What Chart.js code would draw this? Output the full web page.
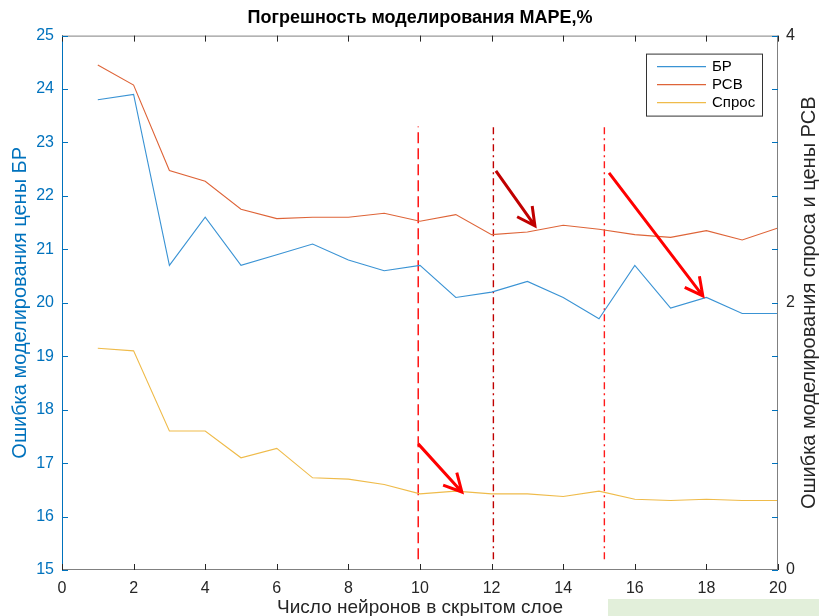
<!DOCTYPE html>
<html>
<head>
<meta charset="utf-8">
<script src="https://cdn.jsdelivr.net/npm/chart.js@4"></script>
<style>
  body { margin: 0; background: #fff; }
  #wrap { position: relative; width: 819px; height: 616px; }
  #note { position: absolute; left: 608px; top: 599px; width: 211px; height: 17px; background: #e2efda; }
</style>
</head>
<body>
<div id="wrap">
  <canvas id="mapeChart"></canvas>
  <div id="note"></div>
</div>
<script>
// Data
const neurons = [1, 2, 3, 4, 5, 6, 7, 8, 9, 10, 11, 12, 13, 14, 15, 16, 17, 18, 19, 20];
const brErr = [23.8, 23.9, 20.7, 21.6, 20.7, 20.9, 21.1, 20.8, 20.6, 20.7, 20.1, 20.2, 20.4, 20.1, 19.7, 20.7, 19.9, 20.1, 19.8, 19.8];
const rsvErr = [3.78, 3.63, 2.99, 2.91, 2.70, 2.63, 2.64, 2.64, 2.67, 2.61, 2.66, 2.51, 2.53, 2.58, 2.55, 2.51, 2.49, 2.54, 2.47, 2.56];
const demandErr = [1.66, 1.64, 1.04, 1.04, 0.84, 0.91, 0.69, 0.68, 0.64, 0.57, 0.59, 0.57, 0.57, 0.55, 0.59, 0.53, 0.52, 0.53, 0.52, 0.52];
const seriesNames = ['БР', 'РСВ', 'Спрос'];

// vertical guide lines (x in neurons, y span in left axis units)
const guideX = [9.95, 12.05, 15.15];
const guideSpan = [15.2, 23.3];
// arrows: [x0, y0, x1, y1] in left axis units
const arrows = [
    [9.95, 17.36, 11.17, 16.46],
    [12.12, 22.47, 13.21, 21.44],
    [15.28, 22.43, 17.9, 20.13]
];

const xTicks = [0, 2, 4, 6, 8, 10, 12, 14, 16, 18, 20];
const rightTitle = 'Ошибка моделирования спроса и цены РСВ';

const BLUE = '#0072BD', AXIS_GRAY = '#808080', TEXT = '#262626';
const lineColors = ['#3a93d4', '#de6438', '#efbb4a'];
const FONT = '"Liberation Sans", Arial, sans-serif';
const guideStyles = [
    { color: '#ff0000', dash: [11, 5] },
    { color: '#c00000', dash: [7, 4, 2, 4] },
    { color: '#ff1a1a', dash: [7, 4, 2, 4] }
];
const arrowColors = ['#ff0000', '#c00000', '#ff0000'];

function pts(ys) {
    return neurons.map((x, i) => ({ x: x, y: ys[i] }));
}

const datasets = [
    { label: seriesNames[0], data: pts(brErr), borderColor: lineColors[0], yAxisID: 'y' },
    { label: seriesNames[1], data: pts(rsvErr), borderColor: lineColors[1], yAxisID: 'y2' },
    { label: seriesNames[2], data: pts(demandErr), borderColor: lineColors[2], yAxisID: 'y2' }
].map(d => Object.assign(d, { borderWidth: 1.1, pointRadius: 0, tension: 0, fill: false }));

guideX.forEach((gx, i) => {
    datasets.push({
        label: 'guide' + i,
        data: [{ x: gx, y: guideSpan[0] }, { x: gx, y: guideSpan[1] }],
        borderColor: guideStyles[i].color,
        borderDash: guideStyles[i].dash,
        borderWidth: 1.4,
        pointRadius: 0,
        yAxisID: 'y'
    });
});

// box, inward ticks, arrows, legend, right title
const matlabAxes = {
    id: 'matlabAxes',
    afterDatasetsDraw(chart) {
        const ctx = chart.ctx;
        const a = chart.chartArea;
        const sx = chart.scales.x, sy = chart.scales.y, sy2 = chart.scales.y2;
        const tl = 6;
        ctx.save();

        // arrows
        arrows.forEach((ar, i) => {
            const x0 = sx.getPixelForValue(ar[0]), y0 = sy.getPixelForValue(ar[1]);
            const x1 = sx.getPixelForValue(ar[2]), y1 = sy.getPixelForValue(ar[3]);
            const ang = Math.atan2(y1 - y0, x1 - x0);
            const hl = 20, hw = 0.48;
            ctx.strokeStyle = arrowColors[i];
            ctx.lineWidth = 3;
            ctx.beginPath();
            ctx.moveTo(x0, y0);
            ctx.lineTo(x1, y1);
            ctx.moveTo(x1 - hl * Math.cos(ang - hw), y1 - hl * Math.sin(ang - hw));
            ctx.lineTo(x1, y1);
            ctx.lineTo(x1 - hl * Math.cos(ang + hw), y1 - hl * Math.sin(ang + hw));
            ctx.stroke();
        });

        // frame
        ctx.lineWidth = 1;
        ctx.strokeStyle = AXIS_GRAY;
        ctx.beginPath();
        ctx.moveTo(a.left, a.top + 0.5); ctx.lineTo(a.right, a.top + 0.5);
        ctx.moveTo(a.left, a.bottom - 0.5); ctx.lineTo(a.right, a.bottom - 0.5);
        ctx.moveTo(a.right - 0.5, a.top); ctx.lineTo(a.right - 0.5, a.bottom);
        ctx.stroke();
        ctx.strokeStyle = BLUE;
        ctx.beginPath();
        ctx.moveTo(a.left + 0.5, a.top); ctx.lineTo(a.left + 0.5, a.bottom);
        ctx.stroke();

        // x ticks, bottom and top
        ctx.strokeStyle = TEXT;
        ctx.beginPath();
        sx.ticks.forEach(t => {
            const px = Math.round(sx.getPixelForValue(t.value)) + 0.5;
            ctx.moveTo(px, a.bottom); ctx.lineTo(px, a.bottom - tl);
            ctx.moveTo(px, a.top); ctx.lineTo(px, a.top + tl);
        });
        ctx.stroke();

        // left and right ticks
        ctx.strokeStyle = BLUE;
        ctx.beginPath();
        sy.ticks.forEach(t => {
            const py = Math.round(sy.getPixelForValue(t.value)) + 0.5;
            ctx.moveTo(a.left, py); ctx.lineTo(a.left + tl, py);
        });
        sy2.ticks.forEach(t => {
            const py = Math.round(sy2.getPixelForValue(t.value)) + 0.5;
            ctx.moveTo(a.right, py); ctx.lineTo(a.right - tl, py);
        });
        ctx.stroke();

        // right axis title, reading bottom to top like the left one
        ctx.save();
        ctx.translate(809, (a.top + a.bottom) / 2);
        ctx.rotate(-Math.PI / 2);
        ctx.font = '20px ' + FONT;
        ctx.fillStyle = TEXT;
        ctx.textAlign = 'center';
        ctx.textBaseline = 'middle';
        ctx.fillText(rightTitle, 0, 0);
        ctx.restore();

        // legend box
        const bw = 116, bh = 62;
        const bx = a.right - 16 - bw, by = a.top + 18;
        ctx.fillStyle = '#fff';
        ctx.fillRect(bx, by, bw, bh);
        ctx.strokeStyle = '#333';
        ctx.lineWidth = 1;
        ctx.strokeRect(bx + 0.5, by + 0.5, bw, bh);
        ctx.font = '15px ' + FONT;
        ctx.textBaseline = 'middle';
        chart.data.datasets.slice(0, 3).forEach((d, i) => {
            const ly = by + 13 + i * 18;
            ctx.strokeStyle = d.borderColor;
            ctx.lineWidth = 1.2;
            ctx.beginPath();
            ctx.moveTo(bx + 11, ly); ctx.lineTo(bx + 60, ly);
            ctx.stroke();
            ctx.fillStyle = '#000';
            ctx.fillText(d.label, bx + 66, ly);
        });
        ctx.restore();
    }
};

const tickFont = { family: FONT, size: 16 };

new Chart(document.getElementById('mapeChart'), {
    type: 'line',
    data: { datasets: datasets },
    options: {
        responsive: true,
        maintainAspectRatio: false,
        animation: false,
        layout: { padding: 0 },
        plugins: {
            legend: { display: false },
            tooltip: { enabled: false },
            title: {
                display: true,
                fullSize: false,
                text: 'Погрешность моделирования MAPE,%',
                color: '#000',
                font: { family: FONT, size: 18, weight: 'bold' },
                padding: { top: 7, bottom: 7 }
            }
        },
        scales: {
            x: {
                type: 'linear',
                min: 0, max: 20,
                afterBuildTicks: s => { s.ticks = xTicks.map(v => ({ value: v })); },
                afterFit: s => { s.height = 46; },
                grid: { display: false },
                border: { display: false },
                ticks: { color: TEXT, font: tickFont, padding: 1, maxRotation: 0 },
                title: { display: true, text: 'Число нейронов в скрытом слое', color: TEXT, font: { family: FONT, size: 19 }, padding: { top: 0, bottom: -3 } }
            },
            y: {
                position: 'left',
                min: 15, max: 25,
                afterFit: s => { s.width = 62; },
                grid: { display: false },
                border: { display: false },
                ticks: { stepSize: 1, color: BLUE, font: tickFont, padding: 0 },
                title: { display: true, text: 'Ошибка моделирования цены БР', color: BLUE, font: { family: FONT, size: 20 }, padding: { top: 8, bottom: 0 } }
            },
            y2: {
                position: 'right',
                min: 0, max: 4,
                afterFit: s => { s.width = 41; },
                grid: { display: false },
                border: { display: false },
                ticks: {
                    stepSize: 0.4, color: TEXT, font: tickFont, padding: 0,
                    callback: v => Math.abs(v / 2 - Math.round(v / 2)) < 1e-6 ? String(Math.round(v)) : ''
                },
                title: { display: false }
            }
        }
    },
    plugins: [matlabAxes]
});
</script>
</body>
</html>
